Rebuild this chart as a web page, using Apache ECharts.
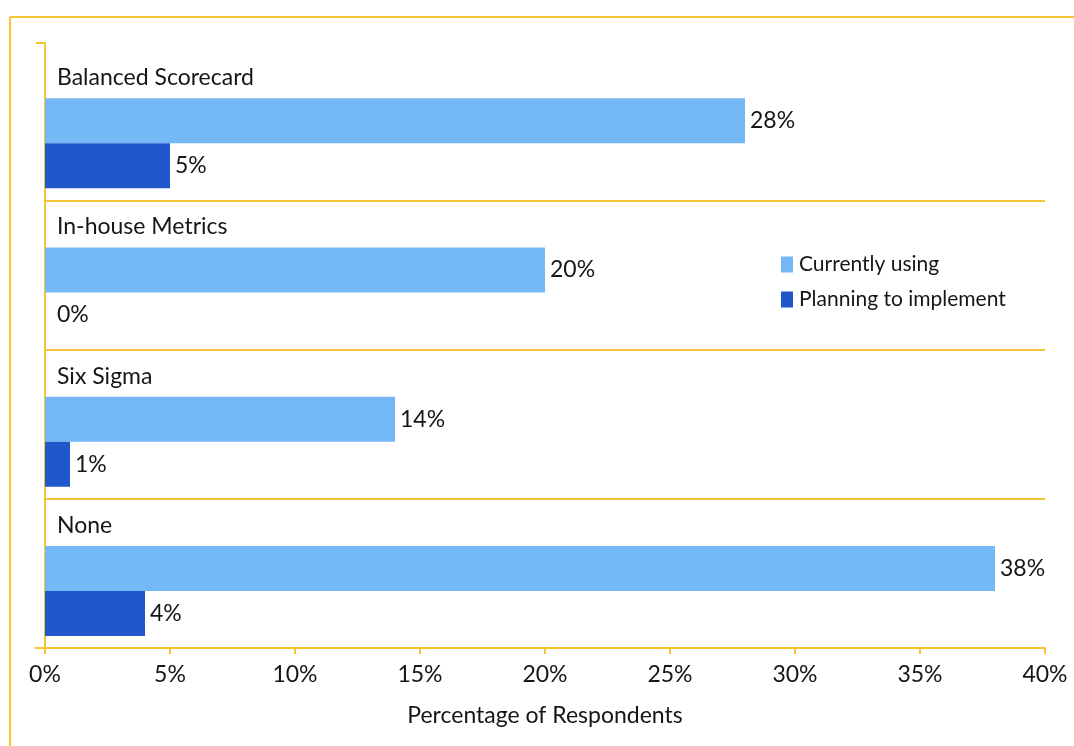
<!DOCTYPE html>
<html>
<head>
<meta charset="utf-8">
<script src="https://cdn.jsdelivr.net/npm/echarts@6/dist/echarts.min.js"></script>
<style>
  html, body { margin: 0; padding: 0; background: #ffffff; }
  #chart { width: 1074px; height: 746px; }
</style>
</head>
<body>
<div id="chart"></div>
<script>
// Performance-measurement approaches, share of respondents (%)
const categories = ['Balanced Scorecard', 'In-house Metrics', 'Six Sigma', 'None'];
const currentlyUsing = [28, 20, 14, 38];
const planningToImplement = [5, 0, 1, 4];
const seriesNames = ['Currently using', 'Planning to implement'];
const xTicks = [0, 5, 10, 15, 20, 25, 30, 35, 40];

const GOLD = '#f4c534';
const LIGHT = '#74b9f5';
const DARK = '#2058cc';
const INK = '#161616';
const FONT = 'Lato, "Open Sans", sans-serif';

const chart = echarts.init(document.getElementById('chart'), null, { renderer: 'canvas' });

const valueLabel = {
  show: true,
  position: 'right',
  distance: 5,
  formatter: (p) => p.value + '%',
  fontFamily: FONT,
  fontSize: 23,
  color: INK
};

// zero-length bars get a slightly wider gap so their label clears the axis
const withLabelGap = (arr) => arr.map((v) => (v === 0 ? { value: v, label: { distance: 12 } } : v));

const option = {
  backgroundColor: '#ffffff',
  animation: false,
  textStyle: { fontFamily: FONT },
  grid: { left: 45, right: 29, top: 51, bottom: 98, containLabel: false },
  legend: {
    data: seriesNames,
    orient: 'vertical',
    left: 776,
    top: 249,
    itemWidth: 12,
    itemHeight: 16,
    itemGap: 14,
    icon: 'rect',
    textStyle: { fontFamily: FONT, fontSize: 21, color: INK, padding: [0, 0, 0, 1] }
  },
  xAxis: {
    type: 'value',
    min: xTicks[0],
    max: xTicks[xTicks.length - 1],
    interval: xTicks[1] - xTicks[0],
    axisLine: { show: true, lineStyle: { color: GOLD, width: 2 } },
    axisTick: { show: true, length: 6, lineStyle: { color: GOLD, width: 2 } },
    splitLine: { show: false },
    axisLabel: { fontFamily: FONT, fontSize: 23, color: INK, margin: 15, formatter: '{value}%' },
    name: 'Percentage of Respondents',
    nameLocation: 'middle',
    nameGap: 56,
    nameTextStyle: { fontFamily: FONT, fontSize: 23, color: INK }
  },
  yAxis: {
    type: 'category',
    data: categories,
    inverse: true,
    axisLine: { show: true, lineStyle: { color: GOLD, width: 2 } },
    axisTick: { show: false },
    axisLabel: { show: false },
    splitLine: {
      show: true,
      interval: (idx) => idx > 0,
      lineStyle: { color: GOLD, width: 2 }
    }
  },
  series: [
    {
      // category heading sits on an empty bar slot above each pair
      name: 'Category',
      type: 'bar',
      barWidth: 35,
      barGap: '0%',
      silent: true,
      itemStyle: { color: 'rgba(0,0,0,0)' },
      data: categories.map(() => 0),
      label: {
        show: true,
        position: 'right',
        distance: 12,
        offset: [0, -3],
        formatter: (p) => p.name,
        fontFamily: FONT,
        fontSize: 23,
        color: INK
      }
    },
    {
      name: seriesNames[0],
      type: 'bar',
      barWidth: 45,
      barGap: '0%',
      itemStyle: { color: LIGHT },
      data: withLabelGap(currentlyUsing),
      label: valueLabel
    },
    {
      name: seriesNames[1],
      type: 'bar',
      barWidth: 45,
      barGap: '0%',
      itemStyle: { color: DARK },
      data: withLabelGap(planningToImplement),
      label: valueLabel
    }
  ],
  graphic: [
    // outer frame
    { type: 'line', shape: { x1: 10, y1: 17, x2: 1074, y2: 17 }, style: { stroke: GOLD, lineWidth: 2 } },
    { type: 'line', shape: { x1: 10, y1: 17, x2: 10, y2: 746 }, style: { stroke: GOLD, lineWidth: 2 } },
    // axis end caps
    { type: 'line', shape: { x1: 45, y1: 43, x2: 45, y2: 52 }, style: { stroke: GOLD, lineWidth: 2 } },
    { type: 'line', shape: { x1: 36, y1: 43, x2: 46, y2: 43 }, style: { stroke: GOLD, lineWidth: 2 } },
    { type: 'line', shape: { x1: 35, y1: 648, x2: 46, y2: 648 }, style: { stroke: GOLD, lineWidth: 2 } }
  ]
};

chart.setOption(option);
</script>
</body>
</html>
